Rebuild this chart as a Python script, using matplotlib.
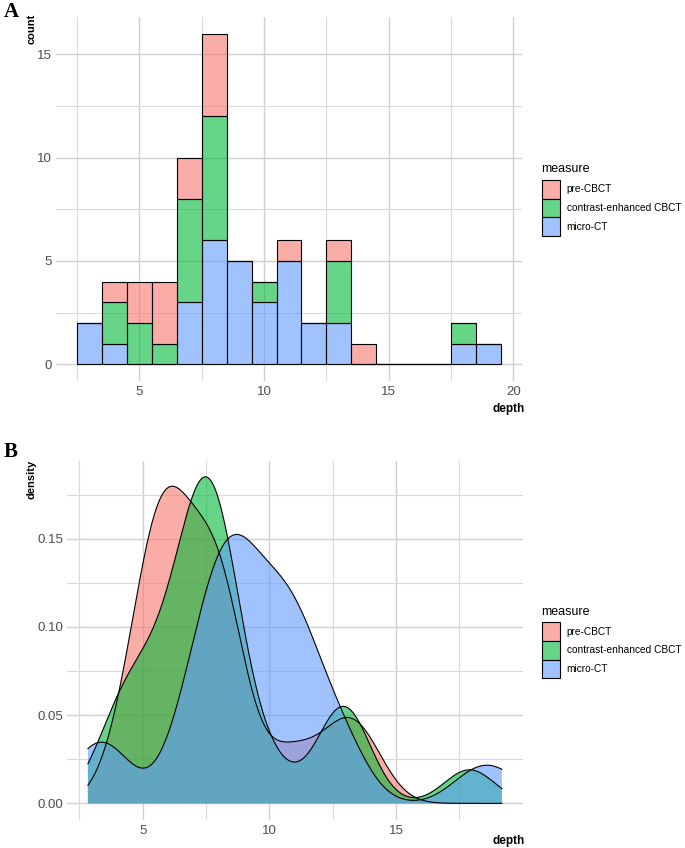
import numpy as np
import matplotlib
matplotlib.use("Agg")
import matplotlib.pyplot as plt
from matplotlib.patches import Patch
from matplotlib.ticker import MultipleLocator, FormatStrFormatter
from matplotlib.colors import to_rgba

plt.rcParams['font.family'] = ['Liberation Sans', 'DejaVu Sans']

measures = ["pre-CBCT", "contrast-enhanced CBCT", "micro-CT"]
colors = ["#F8766D", "#00BA38", "#619CFF"]

pre_cbct = [4.45, 5.3, 5.45, 5.7, 5.9, 6.2, 6.6, 7.1, 7.8, 8.0, 8.2, 8.45,
            10.8, 12.7, 13.7]
contrast_cbct = [3.8, 4.2, 5.0, 5.3, 6.0, 6.6, 6.8, 7.0, 7.2, 7.4, 7.6, 7.8,
                 8.0, 8.2, 8.35, 8.45, 10.0, 12.6, 12.9, 13.3, 17.9]
micro_ct = [2.84, 3.3, 4.0, 6.6, 6.9, 7.2, 7.6, 7.8, 8.0, 8.2, 8.3, 8.4,
            8.6, 8.8, 9.0, 9.2, 9.4, 9.7, 10.0, 10.2, 10.6, 10.75, 10.9, 11.1,
            11.3, 11.7, 12.1, 12.8, 13.2, 18.0, 19.18]

groups = [pre_cbct, contrast_cbct, micro_ct]
bin_edges = np.arange(2.5, 20.0, 1.0)
density_bw = 1.0

ALPHA = 0.6
TICK_COL = "#4d4d4d"
W, H = 685, 848


def style_axes(ax, xmajor, ymajor, yfmt=None):
    for s in ax.spines.values():
        s.set_visible(False)
    ax.xaxis.set_major_locator(MultipleLocator(xmajor))
    ax.xaxis.set_minor_locator(MultipleLocator(xmajor / 2))
    ax.yaxis.set_major_locator(MultipleLocator(ymajor))
    ax.yaxis.set_minor_locator(MultipleLocator(ymajor / 2))
    if yfmt:
        ax.yaxis.set_major_formatter(FormatStrFormatter(yfmt))
    ax.grid(which='major', color='#d0d0d0', lw=1.0)
    ax.grid(which='minor', color='#dadada', lw=0.8)
    ax.set_axisbelow(True)
    ax.tick_params(which='both', length=0, labelsize=9.5, colors=TICK_COL)
    ax.tick_params(axis='y', pad=3)
    ax.tick_params(axis='x', pad=4)


def kde(values, grid, bw):
    v = np.asarray(values)[:, None]
    z = (grid[None, :] - v) / bw
    return np.exp(-0.5 * z ** 2).sum(axis=0) / (len(values) * bw * np.sqrt(2 * np.pi))


fig = plt.figure(figsize=(W / 100, H / 100), dpi=100)

# ---------------- panel A: stacked histogram ----------------
axA = fig.add_axes([56 / W, 1 - 380.8 / H, (522 - 56) / W, (380.8 - 17.1) / H])
centers = (bin_edges[:-1] + bin_edges[1:]) / 2
bottom = np.zeros(len(centers))
for vals, col in zip(groups[::-1], colors[::-1]):
    counts, _ = np.histogram(vals, bins=bin_edges)
    axA.bar(centers, counts, width=1.0, bottom=bottom, facecolor=to_rgba(col, ALPHA),
            edgecolor='black', linewidth=0.8)
    bottom = bottom + counts
span = bin_edges[-1] - bin_edges[0]
axA.set_xlim(bin_edges[0] - 0.05 * span, bin_edges[-1] + 0.05 * span)
axA.set_ylim(-0.05 * bottom.max(), 1.05 * bottom.max())
style_axes(axA, 5, 5)

# ---------------- panel B: densities ----------------
axB = fig.add_axes([67.2 / W, 1 - 819.7 / H, (522.6 - 67.2) / W, (819.7 - 460.5) / H])
all_vals = np.concatenate(groups)
grid = np.linspace(all_vals.min(), all_vals.max(), 512)
ymax = 0
for vals, col in zip(groups, colors):
    d = kde(vals, grid, density_bw)
    ymax = max(ymax, d.max())
    axB.fill_between(grid, 0, d, facecolor=to_rgba(col, ALPHA), edgecolor='none')
    axB.plot(grid, d, color='black', lw=0.8)
span = grid[-1] - grid[0]
axB.set_xlim(grid[0] - 0.05 * span, grid[-1] + 0.05 * span)
axB.set_ylim(-0.05 * ymax, 1.05 * ymax)
style_axes(axB, 5, 0.05, '%.2f')

# ---------------- titles, labels ----------------
fig.text(4 / W, 1 - 17 / H, "A", fontsize=15, fontweight='bold',
         family='Liberation Serif', va='baseline', ha='left')
fig.text(4 / W, 1 - 457 / H, "B", fontsize=15, fontweight='bold',
         family='Liberation Serif', va='baseline', ha='left')

fig.text(32 / W, 1 - 14 / H, "count", rotation=90, fontsize=8, fontweight='bold',
         ha='center', va='top')
fig.text(32 / W, 1 - 460 / H, "density", rotation=90, fontsize=8, fontweight='bold',
         ha='center', va='top')
fig.text(525 / W, 1 - 409 / H, "depth", fontsize=8.5, fontweight='bold',
         ha='right', va='center')
fig.text(525 / W, 1 - 841 / H, "depth", fontsize=8.5, fontweight='bold',
         ha='right', va='center')

handles = [Patch(facecolor=to_rgba(c, ALPHA), edgecolor='black', linewidth=0.8, label=m)
           for m, c in zip(measures, colors)]
for key_top, title_y in [(180, 169), (622.3, 611.7)]:
    fig.text(540.7 / W, 1 - title_y / H, "measure", fontsize=9, ha='left', va='center')
    fig.legend(handles=handles, loc='upper left', bbox_to_anchor=(541.7 / W, 1 - key_top / H),
               frameon=False, fontsize=7.3,
               handlelength=1.85, handleheight=2.45,
               handletextpad=0.62, labelspacing=0.0, borderpad=0, borderaxespad=0)

fig.savefig("out.png", dpi=100)
